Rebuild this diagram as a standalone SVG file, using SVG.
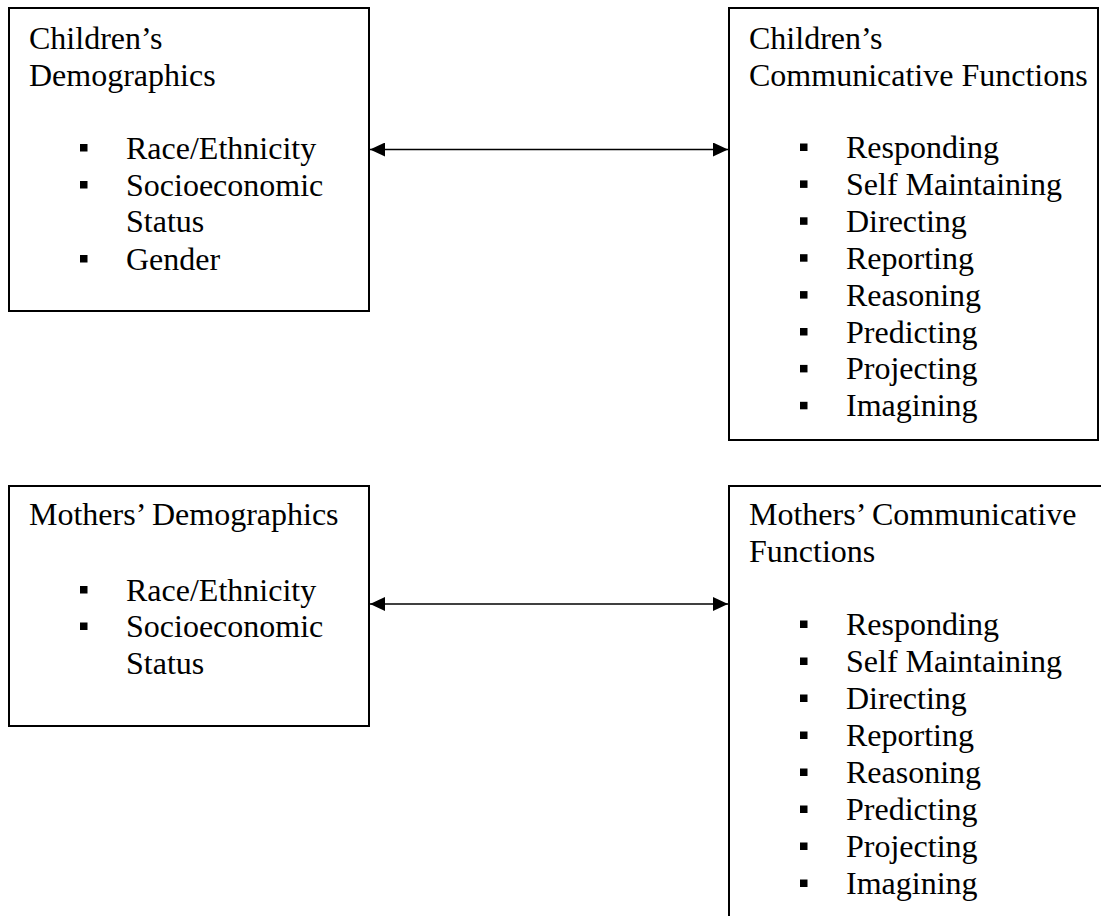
<svg xmlns="http://www.w3.org/2000/svg" width="1101" height="916" viewBox="0 0 1101 916">
<style>
.box{fill:#fff;stroke:#000;stroke-width:2}
.t{font-family:"Liberation Serif","Times New Roman",serif;font-size:32px;fill:#000}
.b{fill:#000}
.c{stroke:#000;stroke-width:1.6;fill:none}
</style>
<defs>
<marker id="ah" markerUnits="userSpaceOnUse" markerWidth="15" markerHeight="14" refX="15" refY="7" orient="auto-start-reverse" viewBox="0 0 15 14">
<path d="M0,0 L15,7 L0,14 z" fill="#000"/>
</marker>
</defs>
<rect width="1101" height="916" fill="#fff"/>
<g id="children-demographics">
<rect class="box" x="9" y="8" width="360" height="303"/>
<text class="t" x="29" y="49">Children’s</text>
<text class="t" x="29" y="86">Demographics</text>
<rect class="b" x="80" y="144" width="7.5" height="7.5"/>
<text class="t" x="126" y="158.5">Race/Ethnicity</text>
<rect class="b" x="80" y="181" width="7.5" height="7.5"/>
<text class="t" x="126" y="195.5">Socioeconomic</text>
<text class="t" x="126" y="232">Status</text>
<rect class="b" x="80" y="255" width="7.5" height="7.5"/>
<text class="t" x="126" y="269.5">Gender</text>
</g>
<g id="children-functions">
<rect class="box" x="729" y="8" width="369" height="432"/>
<text class="t" x="749" y="49">Children’s</text>
<text class="t" x="749" y="86">Communicative Functions</text>
<rect class="b" x="800" y="143.5" width="7.5" height="7.5"/>
<text class="t" x="846" y="158">Responding</text>
<rect class="b" x="800" y="180.4" width="7.5" height="7.5"/>
<text class="t" x="846" y="194.9">Self Maintaining</text>
<rect class="b" x="800" y="217.3" width="7.5" height="7.5"/>
<text class="t" x="846" y="231.8">Directing</text>
<rect class="b" x="800" y="254.2" width="7.5" height="7.5"/>
<text class="t" x="846" y="268.7">Reporting</text>
<rect class="b" x="800" y="291.1" width="7.5" height="7.5"/>
<text class="t" x="846" y="305.6">Reasoning</text>
<rect class="b" x="800" y="328" width="7.5" height="7.5"/>
<text class="t" x="846" y="342.5">Predicting</text>
<rect class="b" x="800" y="364.9" width="7.5" height="7.5"/>
<text class="t" x="846" y="379.4">Projecting</text>
<rect class="b" x="800" y="401.8" width="7.5" height="7.5"/>
<text class="t" x="846" y="416.3">Imagining</text>
</g>
<g id="mothers-demographics">
<rect class="box" x="9" y="486" width="360" height="240"/>
<text class="t" x="29" y="525">Mothers’ Demographics</text>
<rect class="b" x="80" y="586" width="7.5" height="7.5"/>
<text class="t" x="126" y="600.5">Race/Ethnicity</text>
<rect class="b" x="80" y="622.5" width="7.5" height="7.5"/>
<text class="t" x="126" y="637">Socioeconomic</text>
<text class="t" x="126" y="673.5">Status</text>
</g>
<g id="mothers-functions">
<rect class="box" x="729" y="486" width="400" height="460"/>
<text class="t" x="749" y="525">Mothers’ Communicative</text>
<text class="t" x="749" y="562">Functions</text>
<rect class="b" x="800" y="620.5" width="7.5" height="7.5"/>
<text class="t" x="846" y="635">Responding</text>
<rect class="b" x="800" y="657.5" width="7.5" height="7.5"/>
<text class="t" x="846" y="672">Self Maintaining</text>
<rect class="b" x="800" y="694.5" width="7.5" height="7.5"/>
<text class="t" x="846" y="709">Directing</text>
<rect class="b" x="800" y="731.5" width="7.5" height="7.5"/>
<text class="t" x="846" y="746">Reporting</text>
<rect class="b" x="800" y="768.5" width="7.5" height="7.5"/>
<text class="t" x="846" y="783">Reasoning</text>
<rect class="b" x="800" y="805.5" width="7.5" height="7.5"/>
<text class="t" x="846" y="820">Predicting</text>
<rect class="b" x="800" y="842.5" width="7.5" height="7.5"/>
<text class="t" x="846" y="857">Projecting</text>
<rect class="b" x="800" y="879.5" width="7.5" height="7.5"/>
<text class="t" x="846" y="894">Imagining</text>
</g>
<g id="connectors">
<line class="c" x1="370" y1="149.5" x2="728" y2="149.5" marker-start="url(#ah)" marker-end="url(#ah)"/>
<line class="c" x1="370" y1="604" x2="728" y2="604" marker-start="url(#ah)" marker-end="url(#ah)"/>
</g>
</svg>
